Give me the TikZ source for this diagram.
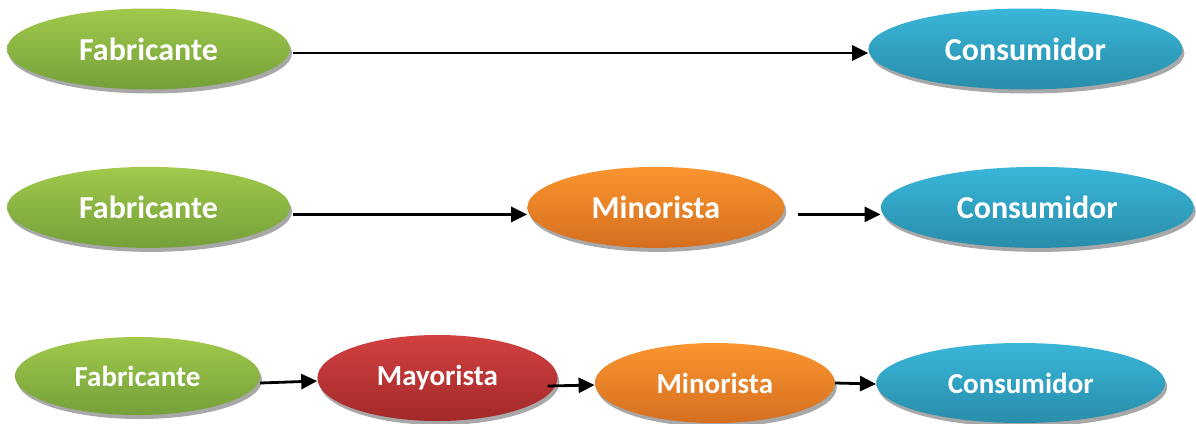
\documentclass[tikz,border=0pt]{standalone}
\usepackage{fontspec}
\setmainfont{Carlito}
\usetikzlibrary{arrows.meta, positioning, shapes.geometric, shadows}

\definecolor{greentop}{RGB}{160,201,76}
\definecolor{greenbot}{RGB}{117,160,57}
\definecolor{bluetop}{RGB}{58,182,217}
\definecolor{bluebot}{RGB}{40,141,170}
\definecolor{orangetop}{RGB}{250,149,48}
\definecolor{orangebot}{RGB}{213,111,31}
\definecolor{redtop}{RGB}{209,65,64}
\definecolor{redbot}{RGB}{163,41,41}
\definecolor{shadowgray}{RGB}{168,168,168}

\begin{document}
\begin{tikzpicture}[
    x=1pt, y=-1pt,
    agent/.style={ellipse, inner sep=0pt, text=white, font=\bfseries\fontsize{32}{38}\selectfont,
                  drop shadow={shadow xshift=2pt, shadow yshift=-4pt, fill=shadowgray, opacity=1}},
    small/.style={font=\bfseries\fontsize{29}{34}\selectfont},
    fab/.style={agent, top color=greentop, bottom color=greenbot},
    con/.style={agent, top color=bluetop, bottom color=bluebot},
    mino/.style={agent, top color=orangetop, bottom color=orangebot},
    mayo/.style={agent, top color=redtop, bottom color=redbot},
    arr/.style={-{Triangle[length=16pt, width=15pt]}, line width=2.8pt},
]
\useasboundingbox (0,0) rectangle (1196,423);

% Row 1: direct channel
\node[fab, minimum width=283pt, minimum height=81pt] (fab1) at (148.5,49) {Fabricante};
\node[con, minimum width=314pt, minimum height=81pt, right=578pt of fab1] (con1) {Consumidor};

% Row 2: through a retailer
\node[fab, minimum width=283pt, minimum height=81pt, below=77pt of fab1] (fab2) {Fabricante};
\node[mino, minimum width=257pt, minimum height=81pt, right=237pt of fab2] (min2) {Minorista};
\node[con, minimum width=313pt, minimum height=81pt, right=96pt of min2] (con2) {Consumidor};

% Row 3: through a wholesaler and a retailer
\node[fab, small, minimum width=245pt, minimum height=78pt] (fab3) at (137.5,376) {Fabricante};
\node[mayo, small, minimum width=240pt, minimum height=86pt, right=57pt of fab3, yshift=-2pt] (may3) {Mayorista};
\node[mino, small, minimum width=240pt, minimum height=80pt, right=37pt of may3, yshift=-5pt] (min3) {Minorista};
\node[con, small, minimum width=289pt, minimum height=80pt, right=41pt of min3] (con3) {Consumidor};

% Arrows
\draw[arr] ([xshift=3pt, yshift=-4pt]fab1.east) -- ([yshift=-4pt]con1.west);
\draw[arr] ([xshift=3pt, yshift=-7pt]fab2.east) -- ([yshift=-7pt]min2.west);
\draw[arr] ([xshift=13pt, yshift=-7pt]min2.east) -- ([yshift=-7pt]con2.west);
\draw[arr] ([yshift=-7pt]fab3.east) -- ([yshift=-3pt]may3.west);
\draw[arr] ([xshift=-10pt, yshift=-8pt]may3.east) -- ([yshift=-2pt]min3.west);
\draw[arr] (min3.east) -- ([yshift=-1pt]con3.west);

\end{tikzpicture}
\end{document}
